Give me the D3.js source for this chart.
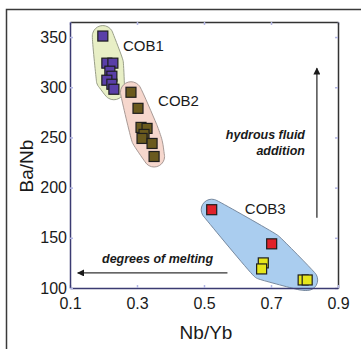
<!DOCTYPE html>
<html>
<head>
<meta charset="utf-8">
<script src="https://cdn.jsdelivr.net/npm/d3@7"></script>
<style>
  body { margin: 0; background: #fff; }
  svg { display: block; font-family: "Liberation Sans", Arial, sans-serif; }
</style>
</head>
<body>
<div id="chart"></div>
<script>
// values (Nb/Yb, Ba/Nb)
const cob1 = [
  [0.198, 351], [0.21, 324], [0.228, 324], [0.219, 316],
  [0.225, 311], [0.21, 307], [0.225, 303], [0.231, 298],
];
const cob2 = [
  [0.282, 295], [0.303, 279], [0.312, 260], [0.33, 259],
  [0.321, 253], [0.315, 249], [0.345, 244], [0.351, 231],
];
const cob3Red = [[0.523, 178], [0.702, 144]];
const cob3Yellow = [[0.677, 125], [0.672, 119], [0.796, 108], [0.808, 108]];

const xTicks = [0.1, 0.3, 0.5, 0.7, 0.9];
const yTicks = [100, 150, 200, 250, 300, 350];
const groupNames = ["COB1", "COB2", "COB3"];

const width = 361;
const height = 349;
const margin = { top: 22, right: 23, bottom: 61, left: 70 };

const svg = d3
  .select("#chart")
  .append("svg")
  .attr("width", width)
  .attr("height", height);

// outer frame
svg
  .append("rect")
  .attr("x", 6.5)
  .attr("y", 9.5)
  .attr("width", 380)
  .attr("height", 380)
  .attr("fill", "none")
  .attr("stroke", "#3a3a3a")
  .attr("stroke-width", 1.5);

const x = d3
  .scaleLinear()
  .domain([0.1, 0.9])
  .range([margin.left, width - margin.right]);

const y = d3
  .scaleLinear()
  .domain([100, 365])
  .range([height - margin.bottom, margin.top]);

// blobs round each group: padded hull, smoothed
function blob(points, pad) {
  let ring = [];
  points.forEach((p) => {
    for (let i = 0; i < 24; i++) {
      let a = (i / 24) * Math.PI * 2;
      ring.push([x(p[0]) + pad * Math.cos(a), y(p[1]) + pad * Math.sin(a)]);
    }
  });
  return d3.line().curve(d3.curveCatmullRomClosed)(d3.polygonHull(ring));
}

const blobs = [
  { pts: cob1, fill: "#e8efc6", stroke: "#9a9f8a" },
  { pts: cob2, fill: "#f6d7cd", stroke: "#a89a96" },
  { pts: cob3Red.concat(cob3Yellow), fill: "#aacdef", stroke: "#7a8ba0" },
];

svg
  .append("g")
  .attr("class", "blobs")
  .selectAll("path")
  .data(blobs)
  .join("path")
  .attr("d", (d) => blob(d.pts, 10.5))
  .attr("fill", (d) => d.fill)
  .attr("stroke", (d) => d.stroke)
  .attr("stroke-width", 1);

// axes
const tickColor = "#b3b6e4";

function styleAxis(g, domainColor) {
  g.select(".domain").attr("stroke", domainColor).attr("stroke-width", 1.5);
  g.selectAll(".tick line").attr("stroke", tickColor).attr("stroke-width", 1.5);
  g.selectAll(".tick text")
    .attr("fill", "#1a1a1a")
    .style("font-size", "16px")
    .style("font-family", "'Liberation Sans', Arial, sans-serif");
}

svg
  .append("g")
  .attr("transform", `translate(0,${margin.top})`)
  .call(d3.axisTop(x).tickValues(xTicks).tickSizeInner(-3).tickSizeOuter(0).tickFormat(""))
  .call((g) => styleAxis(g, "#333"));

svg
  .append("g")
  .attr("transform", `translate(${width - margin.right},0)`)
  .call(d3.axisRight(y).tickValues(yTicks).tickSizeInner(-3).tickSizeOuter(0).tickFormat(""))
  .call((g) => styleAxis(g, "#333"));

svg
  .append("g")
  .attr("transform", `translate(0,${height - margin.bottom})`)
  .call(
    d3.axisBottom(x).tickValues(xTicks).tickSizeInner(-3).tickSizeOuter(0).tickPadding(10)
      .tickFormat(d3.format(".1f"))
  )
  .call((g) => styleAxis(g, "#3b3b72"));

svg
  .append("g")
  .attr("transform", `translate(${margin.left},0)`)
  .call(d3.axisLeft(y).tickValues(yTicks).tickSizeInner(-3).tickSizeOuter(0).tickPadding(3))
  .call((g) => styleAxis(g, "#3b3b72"));

// axis titles
svg
  .append("text")
  .attr("x", 206)
  .attr("y", 339)
  .attr("text-anchor", "middle")
  .attr("fill", "#1a1a1a")
  .style("font-size", "19px")
  .text("Nb/Yb");

svg
  .append("text")
  .attr("transform", "translate(33,166) rotate(-90)")
  .attr("text-anchor", "middle")
  .attr("fill", "#1a1a1a")
  .style("font-size", "19px")
  .text("Ba/Nb");

// squares
const size = 10;
const groups = [
  { pts: cob1, fill: "#5a3fa8" },
  { pts: cob2, fill: "#6a5a1e" },
  { pts: cob3Red, fill: "#e0222a" },
  { pts: cob3Yellow, fill: "#e6e61c" },
];

groups.forEach((gr) => {
  svg
    .append("g")
    .selectAll("rect")
    .data(gr.pts)
    .join("rect")
    .attr("x", (d) => x(d[0]) - size / 2)
    .attr("y", (d) => y(d[1]) - size / 2)
    .attr("width", size)
    .attr("height", size)
    .attr("fill", gr.fill)
    .attr("stroke", "#1e1e1e")
    .attr("stroke-width", 1.2);
});

// group labels
const labelPos = [
  [0.258, 336],
  [0.363, 281],
  [0.622, 174],
];

svg
  .append("g")
  .selectAll("text")
  .data(groupNames)
  .join("text")
  .attr("x", (d, i) => x(labelPos[i][0]))
  .attr("y", (d, i) => y(labelPos[i][1]))
  .attr("fill", "#1a1a1a")
  .style("font-size", "15px")
  .text((d) => d);

// arrows and notes
svg
  .append("defs")
  .append("marker")
  .attr("id", "head")
  .attr("viewBox", "0 0 10 10")
  .attr("refX", 9)
  .attr("refY", 5)
  .attr("markerWidth", 8)
  .attr("markerHeight", 7)
  .attr("markerUnits", "userSpaceOnUse")
  .attr("orient", "auto")
  .append("path")
  .attr("d", "M0,0L10,5L0,10Z")
  .attr("fill", "#1a1a1a");

svg
  .append("line")
  .attr("x1", x(0.57))
  .attr("y1", y(115))
  .attr("x2", x(0.123))
  .attr("y2", y(115))
  .attr("stroke", "#333")
  .attr("stroke-width", 1.3)
  .attr("marker-end", "url(#head)");

svg
  .append("line")
  .attr("x1", x(0.837))
  .attr("y1", y(170))
  .attr("x2", x(0.837))
  .attr("y2", y(319))
  .attr("stroke", "#333")
  .attr("stroke-width", 1.3)
  .attr("marker-end", "url(#head)");

const noteStyle = (t) =>
  t.attr("fill", "#1a1a1a")
    .style("font-size", "12.5px")
    .style("font-weight", "bold")
    .style("font-style", "italic");

svg.append("text").attr("x", 102).attr("y", 263).call(noteStyle).text("degrees of melting");
svg.append("text").attr("x", 305).attr("y", 139).attr("text-anchor", "end").call(noteStyle).text("hydrous fluid");
svg.append("text").attr("x", 305).attr("y", 155).attr("text-anchor", "end").call(noteStyle).text("addition");
</script>
</body>
</html>
